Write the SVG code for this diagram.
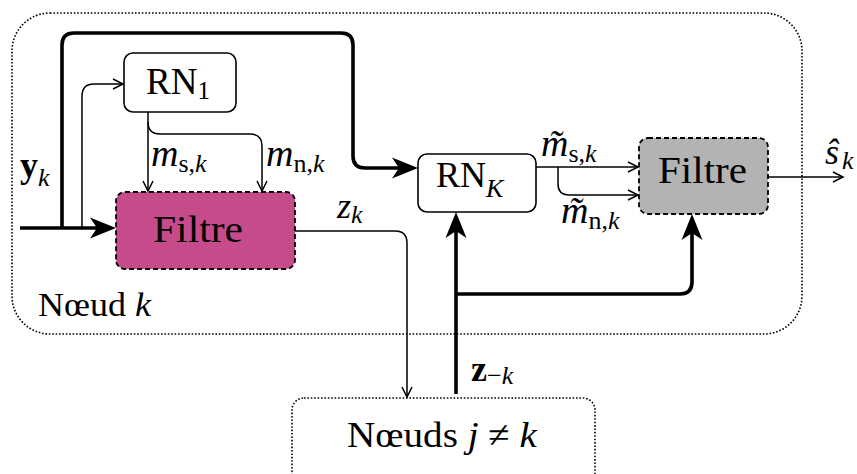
<svg xmlns="http://www.w3.org/2000/svg" width="857" height="474" viewBox="0 0 857 474">
<style>
  .txt { font-family: "Liberation Serif", "Times New Roman", serif; fill: #000; }
  .it { font-style: italic; }
  .bf { font-weight: bold; }
  .box { fill: #fff; stroke: #000; stroke-width: 1.6; }
  .dash { stroke: #000; stroke-width: 1.8; stroke-dasharray: 5 3; }
  .dot { fill: none; stroke: #000; stroke-width: 1.6; stroke-dasharray: 1.6 1.8; }
  .thin { fill: none; stroke: #000; stroke-width: 1.5; }
  .thick { fill: none; stroke: #000; stroke-width: 3.6; stroke-linejoin: round; }
</style>
<defs>
  <marker id="big" viewBox="-22 -12 30 24" markerWidth="30" markerHeight="24" refX="0" refY="0" orient="auto" markerUnits="userSpaceOnUse">
    <path d="M6,0 L-20,-10.5 L-13,0 L-20,10.5 Z" fill="#000"/>
  </marker>
  <marker id="open" viewBox="-12 -7 14 14" markerWidth="14" markerHeight="14" refX="0" refY="0" orient="auto" markerUnits="userSpaceOnUse">
    <path d="M-10,-5 L0,0 L-10,5" fill="none" stroke="#000" stroke-width="1.5"/>
  </marker>
</defs>

<g id="node-k-container">
  <rect class="dot" x="12" y="13" width="790" height="321" rx="38"/>
  <text class="txt" x="38" y="316" font-size="33" textLength="113" lengthAdjust="spacingAndGlyphs">Nœud <tspan class="it">k</tspan></text>
</g>

<g id="other-nodes">
  <rect class="dot" x="292" y="398" width="303" height="110" rx="12"/>
  <text class="txt" x="347" y="447" font-size="36" textLength="190" lengthAdjust="spacingAndGlyphs">Nœuds <tspan class="it">j</tspan> ≠ <tspan class="it">k</tspan></text>
</g>

<g id="connectors">
  <path class="thick" d="M20,228 H110" marker-end="url(#big)"/>
  <path class="thick" d="M62,228 V45 Q62,33 74,33 H341 Q353,33 353,45 V156 Q353,168 365,168 H412" marker-end="url(#big)"/>
  <path class="thin" d="M82,228 V96 Q82,84 94,84 H123" marker-end="url(#open)"/>
  <path class="thin" d="M148,112 V191" marker-end="url(#open)"/>
  <path class="thin" d="M148,122 Q148,134 160,134 H250 Q262,134 262,146 V191" marker-end="url(#open)"/>
  <path class="thin" d="M295,231 H395 Q407,231 407,243 V397" marker-end="url(#open)"/>
  <path class="thin" d="M536,167 H638" marker-end="url(#open)"/>
  <path class="thin" d="M558,167 V184 Q558,195 569,195 H638" marker-end="url(#open)"/>
  <path class="thin" d="M768,177 H843" marker-end="url(#open)"/>
  <path class="thick" d="M456,394 V218" marker-end="url(#big)"/>
  <path class="thick" d="M456,294 H680 Q692,294 692,282 V220" marker-end="url(#big)"/>
</g>

<g id="rn1">
  <rect class="box" x="124" y="53" width="112" height="59" rx="9"/>
  <text class="txt" x="146" y="94" font-size="37">RN<tspan font-size="25" dy="5">1</tspan></text>
</g>

<g id="filtre-k">
  <rect class="dash" fill="#C54B8B" x="116" y="192" width="179" height="77" rx="9"/>
  <text class="txt" x="153" y="242" font-size="37" textLength="90" lengthAdjust="spacingAndGlyphs">Filtre</text>
</g>

<g id="rnK">
  <rect class="box" x="418" y="154" width="118" height="58" rx="9"/>
  <text class="txt" x="436" y="187" font-size="36">RN<tspan class="it" font-size="26" dy="10">K</tspan></text>
</g>

<g id="filtre-grey">
  <rect class="dash" fill="#B3B3B3" x="639" y="138" width="129" height="76" rx="9"/>
  <text class="txt" x="658" y="183" font-size="37" textLength="89" lengthAdjust="spacingAndGlyphs">Filtre</text>
</g>

<g id="labels">
  <text class="txt" x="20" y="177" font-size="36"><tspan class="bf">y</tspan><tspan class="it" font-size="26" dy="9">k</tspan></text>
  <text class="txt" x="151" y="166" font-size="38"><tspan class="it">m</tspan><tspan font-size="26" dy="6">s,</tspan><tspan class="it" font-size="26">k</tspan></text>
  <text class="txt" x="266" y="166" font-size="38"><tspan class="it">m</tspan><tspan font-size="26" dy="6">n,</tspan><tspan class="it" font-size="26">k</tspan></text>
  <text class="txt" x="337" y="218" font-size="36"><tspan class="it">z</tspan><tspan class="it" font-size="26" dy="5">k</tspan></text>
  <text class="txt" x="541" y="156" font-size="38"><tspan class="it">m̃</tspan><tspan font-size="26" dy="6">s,</tspan><tspan class="it" font-size="26">k</tspan></text>
  <text class="txt" x="561" y="223" font-size="38"><tspan class="it">m̃</tspan><tspan font-size="26" dy="6">n,</tspan><tspan class="it" font-size="26">k</tspan></text>
  <text class="txt" x="825" y="164" font-size="36"><tspan class="it">ŝ</tspan><tspan class="it" font-size="26" dx="3" dy="5">k</tspan></text>
  <text class="txt" x="471" y="381" font-size="36"><tspan class="bf">z</tspan><tspan font-size="26" dy="3">−</tspan><tspan class="it" font-size="26">k</tspan></text>
</g>
</svg>
